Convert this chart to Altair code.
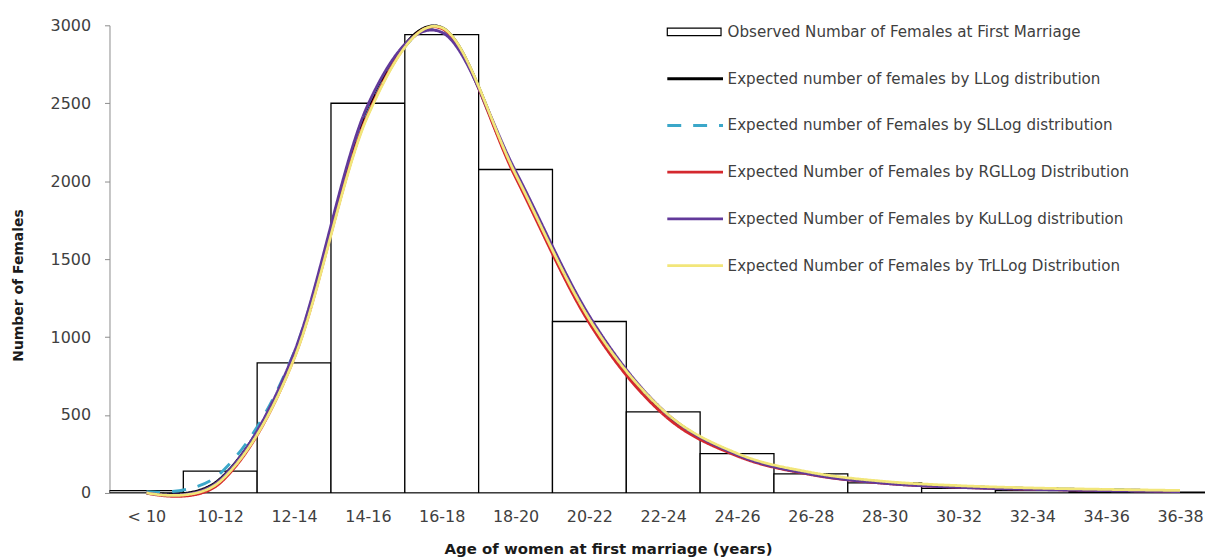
import altair as alt
import pandas as pd

categories = ["< 10", "10-12", "12-14", "14-16", "16-18", "18-20", "20-22", "22-24",
              "24-26", "26-28", "28-30", "30-32", "32-34", "34-36", "36-38"]
observed = [15, 140, 835, 2500, 2940, 2075, 1100, 520, 252, 122, 65, 30, 15, 8, 5]

llog = [2, 90, 880, 2450, 2985, 2040, 1115, 525, 248, 126, 68, 42, 28, 20, 13]
sllog = [8, 125, 900, 2440, 2975, 2035, 1105, 520, 246, 125, 67, 41, 27, 19, 12]
rgllog = [0, 65, 865, 2430, 2980, 2025, 1090, 505, 238, 118, 62, 37, 24, 17, 11]
kullog = [1, 85, 900, 2490, 2955, 2065, 1135, 530, 245, 120, 62, 36, 23, 15, 9]
trllog = [1, 75, 860, 2420, 2985, 2045, 1115, 530, 254, 132, 74, 47, 32, 23, 16]

obs_name = "Observed Numbar of Females at First Marriage"
line_names = [
    "Expected number of females by LLog distribution",
    "Expected number of Females by SLLog distribution",
    "Expected Number of Females by RGLLog Distribution",
    "Expected Number of Females by KuLLog distribution",
    "Expected Number of Females by TrLLog Distribution",
]
line_values = [llog, sllog, rgllog, kullog, trllog]
line_colors = ["#000000", "#3ba7c9", "#d4282e", "#62399a", "#f2e67a"]
line_widths = [3, 2.8, 4.2, 3.5, 1.0]
line_dashes = [[1, 0], [14, 12], [1, 0], [1, 0], [1, 0]]

bars_df = pd.DataFrame({
    "idx": list(range(len(categories))),
    "cat": categories,
    "value": observed,
})
bars_df["left"] = bars_df["idx"]
bars_df["right"] = bars_df["idx"] + 1
bars_df["series"] = obs_name

rows = []
for name, vals in zip(line_names, line_values):
    for i, v in enumerate(vals):
        rows.append({"series": name, "pos": i + 0.5, "value": v})
lines_df = pd.DataFrame(rows)

FONT = "DejaVu Sans"
BAND = 74.2
PLOT_W = 1101
PLOT_H = 470

label_expr = "[" + ",".join("'" + c + "'" for c in categories) + "][floor(datum.value)]"

xscale = alt.Scale(domain=[0, PLOT_W / BAND], nice=False, zero=False)
yscale = alt.Scale(domain=[0, 3000], nice=False)

xaxis = alt.Axis(
    values=[i + 0.5 for i in range(len(categories))],
    labelExpr=label_expr,
    ticks=False, tickSize=0, grid=False,
    domainColor="#8c8c8c", domainWidth=1,
    labelFont=FONT, labelFontSize=16, labelColor="#404040",
    labelBaseline="middle", labelPadding=24, labelFlush=False, labelOverlap=False,
    title="Age of women at first marriage (years)",
    titleFont=FONT, titleFontSize=15, titleFontWeight="bold", titleColor="#1a1a1a",
    titleX=501, titleY=56, titleAlign="center", titleBaseline="middle",
)
yaxis = alt.Axis(
    values=list(range(0, 3001, 500)), format="d",
    tickSize=5, tickColor="#8c8c8c", domainColor="#8c8c8c", domainWidth=1,
    grid=False,
    labelFont=FONT, labelFontSize=16, labelColor="#404040", labelPadding=14,
    title="Number of Females",
    titleFont=FONT, titleFontSize=14, titleFontWeight="bold", titleColor="#1a1a1a",
    titleX=-91, titleY=261, titleAngle=-90, titleAlign="center", titleBaseline="middle",
)

rect_path = "M-1,-0.74H9.8V0.74H-1Z"
line_path = "M-1,0H10.2"

bar_legend = alt.Legend(
    title=None, orient="none", legendX=558, legendY=-1, padding=0, offset=0,
    symbolType=rect_path, symbolSize=100, symbolFillColor="#ffffff",
    symbolStrokeWidth=1.2, labelOffset=48,
    labelFont=FONT, labelFontSize=15.2, labelColor="#404040", labelLimit=0,
)
line_legend = alt.Legend(
    title=None, orient="none", legendX=558, legendY=46, padding=0, offset=0,
    symbolType=line_path, symbolSize=100, symbolFillColor="transparent",
    labelOffset=48, rowPadding=31,
    labelFont=FONT, labelFontSize=15.2, labelColor="#404040", labelLimit=0,
)

bars = alt.Chart(bars_df).mark_rect(fill="#ffffff", strokeWidth=1.3, clip=True).encode(
    x=alt.X("left:Q", scale=xscale, axis=xaxis),
    x2="right:Q",
    y=alt.Y("value:Q", scale=yscale, axis=yaxis),
    y2=alt.datum(0),
    stroke=alt.Stroke("series:N", scale=alt.Scale(domain=[obs_name], range=["#000000"]),
                      legend=bar_legend),
)

cscale = alt.Scale(domain=line_names, range=line_colors)
wscale = alt.Scale(domain=line_names, range=line_widths)
dscale = alt.Scale(domain=line_names, range=line_dashes)

layers = [bars]
for name in line_names:
    layers.append(
        alt.Chart(lines_df).transform_filter(alt.datum.series == name).mark_line(
            interpolate="cardinal", tension=0
        ).encode(
            x=alt.X("pos:Q", scale=xscale, axis=xaxis),
            y=alt.Y("value:Q", scale=yscale, axis=yaxis),
            color=alt.Color("series:N", scale=cscale, legend=line_legend),
            strokeWidth=alt.StrokeWidth("series:N", scale=wscale, legend=line_legend),
            strokeDash=alt.StrokeDash("series:N", scale=dscale, legend=line_legend),
        )
    )

chart = alt.layer(*layers).properties(
    width=PLOT_W, height=PLOT_H,
    padding={"left": 102, "top": 16, "right": 0, "bottom": 72},
    autosize=alt.AutoSizeParams(type="none"),
    background="white",
).configure_view(stroke=None)

chart.save("out.html", embed_options={"renderer": "svg", "actions": False})
